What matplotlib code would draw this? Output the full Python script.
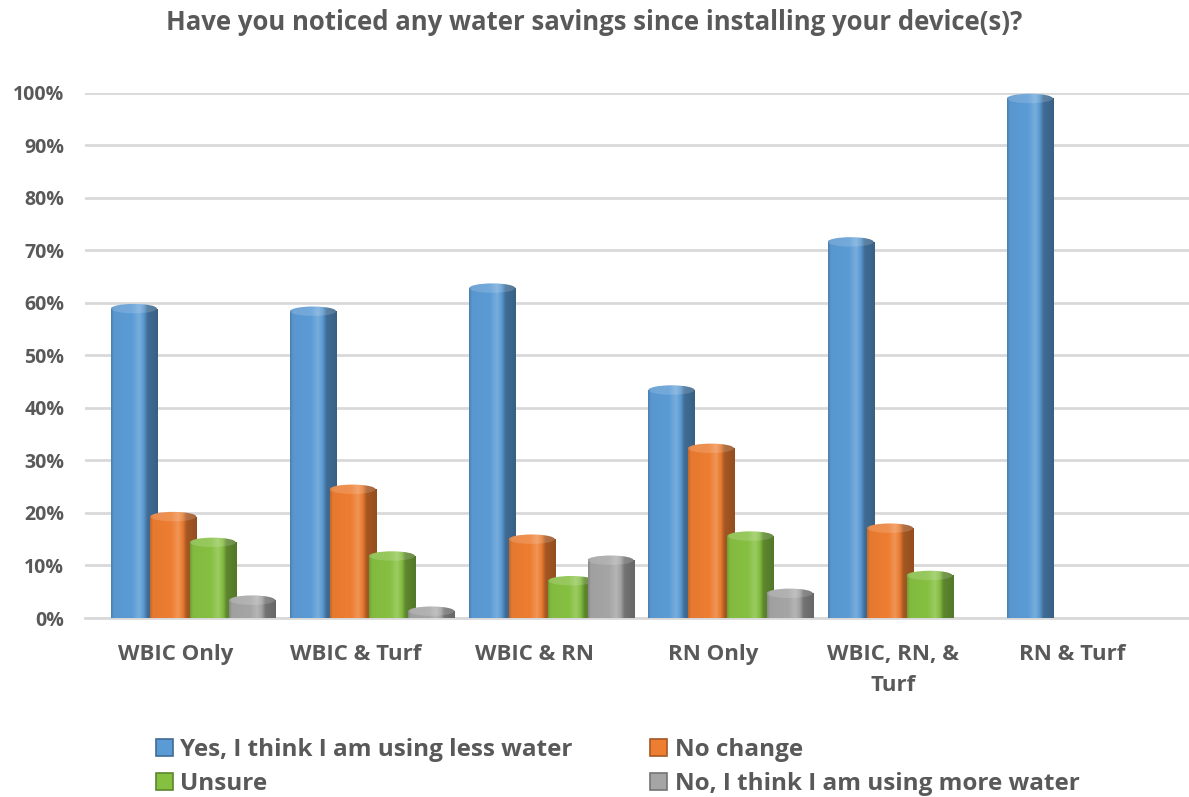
import numpy as np
import matplotlib
matplotlib.use("Agg")
import matplotlib.pyplot as plt
from matplotlib.patches import Ellipse, Rectangle
from matplotlib.colors import to_rgb

categories = ["WBIC Only", "WBIC & Turf", "WBIC & RN", "RN Only", "WBIC, RN, &\nTurf", "RN & Turf"]
series_names = ["Yes, I think I am using less water", "No change", "Unsure",
                "No, I think I am using more water"]
less_water = [58.9, 58.4, 62.8, 43.4, 71.6, 98.9]
no_change = [19.3, 24.5, 15.0, 32.3, 17.1, 0.0]
unsure = [14.4, 11.8, 7.1, 15.6, 8.1, 0.0]
more_water = [3.4, 1.3, 11.0, 4.7, 0.0, 0.0]
y_ticks = [0, 10, 20, 30, 40, 50, 60, 70, 80, 90, 100]
y_tick_labels = [f"{t}%" for t in y_ticks]

series = [less_water, no_change, unsure, more_water]
colors = ["#5B9BD5", "#ED7D31", "#86C041", "#A5A5A5"]
text_color = "#595959"
font = "Open Sans"

W, H = 1189, 797
fig = plt.figure(figsize=(W / 100, H / 100), dpi=100)
ax = fig.add_axes([85 / W, 1 - 618 / H, (W - 85) / W, (618 - 92.7) / H])

x = np.arange(len(categories))
offsets = [-0.235, -0.015, 0.205, 0.425]
bar_w = 0.257
cap_h = 1.8  # apparent height of the top ellipse, in axis units


def shade(color):
    """Horizontal cylinder shading: soft left edge, highlight, dark right side."""
    base = np.array(to_rgb(color))
    white = np.ones(3)
    stops = [(0.00, base * 0.82),
             (0.06, base * 0.97),
             (0.45, base),
             (0.60, base + (white - base) * 0.18),
             (0.70, base * 0.98),
             (0.78, base * 0.70),
             (1.00, base * 0.62)]
    t = np.linspace(0, 1, 200)
    ts = [s[0] for s in stops]
    rgb = np.stack([np.interp(t, ts, [s[1][k] for s in stops]) for k in range(3)], axis=-1)
    return np.clip(rgb, 0, 1)[None, :, :]


for j, (vals, col) in enumerate(zip(series, colors)):
    bars = ax.bar(x + offsets[j], vals, width=bar_w, color="none", edgecolor="none",
                  zorder=3 + j, label=series_names[j])
    grad = shade(col)
    cap = shade(col) * 0.85 + 0.15
    for b, v in zip(bars, vals):
        if v <= 0:
            continue
        x0, w = b.get_x(), b.get_width()
        body = Rectangle((x0, 0), w, v, transform=ax.transData)
        im = ax.imshow(grad, extent=[x0, x0 + w, 0, v], aspect="auto",
                       interpolation="bilinear", zorder=3 + j)
        im.set_clip_path(body)
        top = Ellipse((x0 + w / 2, v), w, cap_h, transform=ax.transData)
        im2 = ax.imshow(cap, extent=[x0, x0 + w, v - cap_h, v + cap_h], aspect="auto",
                        interpolation="bilinear", zorder=3 + j)
        im2.set_clip_path(top)

ax.set_xlim(-0.508, 5.653)
ax.set_ylim(0, 100)
ax.set_yticks(y_ticks)
ax.set_yticklabels(y_tick_labels)
ax.set_xticks(x)
ax.set_xticklabels(categories)
ax.grid(axis="y", color="#D9D9D9", linewidth=2, zorder=0)
ax.set_axisbelow(True)
for s in ["top", "right", "left"]:
    ax.spines[s].set_visible(False)
ax.spines["bottom"].set_color("#D9D9D9")
ax.spines["bottom"].set_linewidth(2)
ax.tick_params(axis="both", length=0, colors=text_color)
ax.tick_params(axis="y", pad=15)
ax.tick_params(axis="x", pad=19)
for lab in ax.get_yticklabels():
    lab.set_fontfamily(font); lab.set_fontweight("bold"); lab.set_fontsize(14)
for lab in ax.get_xticklabels():
    lab.set_fontfamily(font); lab.set_fontweight("bold"); lab.set_fontsize(16)
    lab.set_verticalalignment("top")
    lab.set_linespacing(1.6)

fig.text(0.5, 1 - 22 / H, "Have you noticed any water savings since installing your device(s)?",
         ha="center", va="center", fontsize=18.5, fontweight="bold", color=text_color,
         fontfamily=font)

handles = [Rectangle((0, 0), 1, 1, facecolor=c, edgecolor=np.array(to_rgb(c)) * 0.7,
                     linewidth=1.2) for c in colors]
order = [0, 2, 1, 3]
leg = fig.legend([handles[i] for i in order], [series_names[i] for i in order],
                 ncol=2, loc="center left", bbox_to_anchor=(134 / W, 1 - 767 / H),
                 frameon=False, handlelength=0.7, handleheight=0.7, handletextpad=0.3,
                 columnspacing=3.2, labelspacing=0.45,
                 prop={"family": font, "weight": "bold", "size": 17.5})
for t in leg.get_texts():
    t.set_color(text_color)

fig.savefig("out.png", dpi=100)
